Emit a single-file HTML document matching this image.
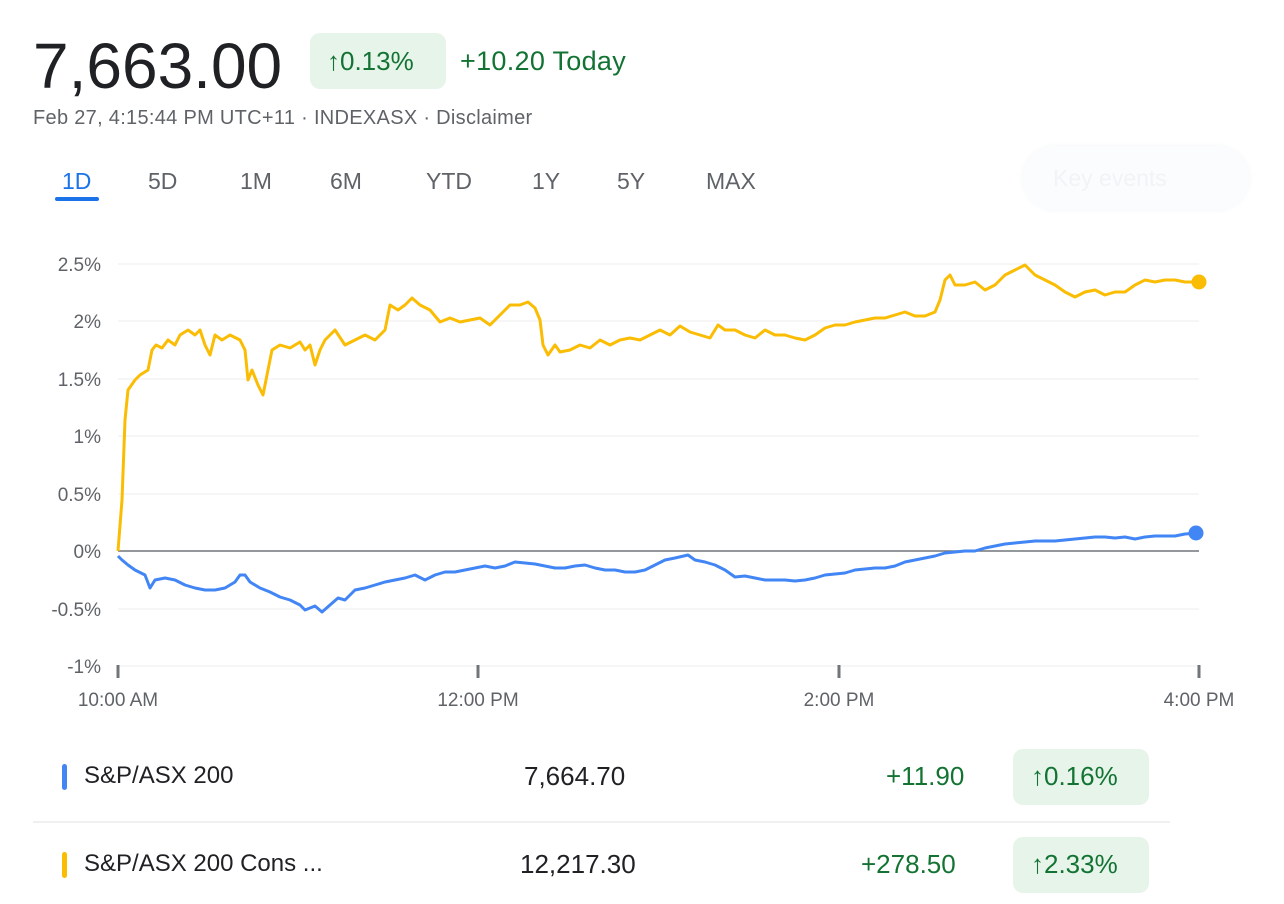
<!DOCTYPE html>
<html><head><meta charset="utf-8"><style>
body{margin:0;width:1284px;height:904px;background:#fff;font-family:"Liberation Sans",sans-serif;position:relative;overflow:hidden}
.a{position:absolute;white-space:nowrap}
</style></head><body>
<div class="a" style="left:33px;top:29px;font-size:64px;color:#202124;letter-spacing:0px">7,663.00</div>
<div class="a" style="left:310px;top:33px;width:136px;height:56px;background:#e6f4ea;border-radius:10px"></div>
<div class="a" style="left:327px;top:46px;font-size:26px;color:#137333">↑0.13%</div>
<div class="a" style="left:460px;top:46px;font-size:27px;color:#137333;letter-spacing:0.3px">+10.20 Today</div>
<div class="a" style="left:33px;top:107px;font-size:20px;color:#5f6368;letter-spacing:0.3px">Feb 27, 4:15:44 PM UTC+11 · INDEXASX · Disclaimer</div>
<div class="a" style="left:62px;top:168px;font-size:23px;color:#1a73e8">1D</div>
<div class="a" style="left:55px;top:197px;width:44px;height:4px;background:#1a73e8;border-radius:2px"></div>
<div class="a" style="left:148px;top:168px;font-size:23px;color:#5f6368">5D</div>
<div class="a" style="left:240px;top:168px;font-size:23px;color:#5f6368">1M</div>
<div class="a" style="left:330px;top:168px;font-size:23px;color:#5f6368">6M</div>
<div class="a" style="left:426px;top:168px;font-size:23px;color:#5f6368">YTD</div>
<div class="a" style="left:532px;top:168px;font-size:23px;color:#5f6368">1Y</div>
<div class="a" style="left:617px;top:168px;font-size:23px;color:#5f6368">5Y</div>
<div class="a" style="left:706px;top:168px;font-size:23px;color:#5f6368">MAX</div>
<div class="a" style="left:1023px;top:146px;width:226px;height:64px;border-radius:32px;background:#fbfcfd;box-shadow:0 0 6px #f3f5f8"></div>
<div class="a" style="left:1053px;top:165px;font-size:23px;color:#f1f3f6">Key events</div>
<svg class="a" style="left:0;top:0" width="1284" height="904">
<g stroke="#eeeeee" stroke-width="1">
<line x1="118" x2="1199" y1="264" y2="264"/><line x1="118" x2="1199" y1="321" y2="321"/><line x1="118" x2="1199" y1="379" y2="379"/><line x1="118" x2="1199" y1="436" y2="436"/><line x1="118" x2="1199" y1="494" y2="494"/><line x1="118" x2="1199" y1="609" y2="609"/><line x1="118" x2="1199" y1="666" y2="666"/>
</g>
<line x1="118" x2="1199" y1="551" y2="551" stroke="#70757a" stroke-width="1.5"/>
<g stroke="#70757a" stroke-width="3"><line x1="118" x2="118" y1="665" y2="678"/><line x1="478" x2="478" y1="665" y2="678"/><line x1="839" x2="839" y1="665" y2="678"/><line x1="1199" x2="1199" y1="665" y2="678"/></g>
<g font-size="19" fill="#5f6368" text-anchor="end">
<text x="101" y="271">2.5%</text><text x="101" y="328">2%</text><text x="101" y="386">1.5%</text><text x="101" y="443">1%</text><text x="101" y="501">0.5%</text><text x="101" y="558">0%</text><text x="101" y="616">-0.5%</text><text x="101" y="673">-1%</text>
</g>
<g font-size="19" fill="#5f6368" text-anchor="middle">
<text x="118" y="706">10:00 AM</text><text x="478" y="706">12:00 PM</text><text x="839" y="706">2:00 PM</text><text x="1199" y="706">4:00 PM</text>
</g>
<polyline fill="none" stroke="#fbbc04" stroke-width="3" stroke-linejoin="round" points="118,551 122,500 125,420 128,390 135,380 140,375 148,370 152,350 156,345 162,348 168,340 175,345 180,335 188,330 195,335 200,330 205,345 210,355 215,335 222,340 230,335 240,340 245,350 248,380 252,370 258,385 263,395 268,370 272,350 280,345 290,348 300,342 305,350 310,345 315,365 320,350 325,340 335,330 345,345 355,340 365,335 375,340 385,330 390,305 398,310 405,305 412,298 420,305 430,310 440,322 450,318 460,322 470,320 480,318 490,325 500,315 510,305 520,305 528,302 535,308 540,320 543,345 548,355 555,345 560,352 570,350 580,345 590,348 600,340 610,345 620,340 630,338 640,340 650,335 660,330 670,335 680,326 690,332 700,335 710,338 718,325 725,330 735,330 745,335 755,338 765,330 775,335 785,335 795,338 805,340 815,335 825,328 835,325 845,325 855,322 865,320 875,318 885,318 895,315 905,312 915,316 925,316 935,312 940,300 945,280 950,275 955,285 965,285 975,282 985,290 995,285 1005,275 1015,270 1025,265 1035,275 1045,280 1055,285 1065,292 1075,297 1085,292 1095,290 1105,295 1115,292 1125,292 1135,285 1145,280 1155,282 1165,280 1175,280 1185,282 1199,282"/>
<polyline fill="none" stroke="#4285f4" stroke-width="3" stroke-linejoin="round" points="118,556 122,560 128,565 135,570 145,575 150,588 155,580 165,578 175,580 185,585 195,588 205,590 215,590 225,588 235,582 240,575 245,575 250,582 260,588 270,592 280,597 290,600 300,605 305,610 315,606 322,612 330,605 338,598 345,600 355,590 365,588 375,585 385,582 395,580 405,578 415,575 425,580 435,575 445,572 455,572 465,570 475,568 485,566 495,568 505,566 515,562 525,563 535,564 545,566 555,568 565,568 575,566 585,565 595,568 605,570 615,570 625,572 635,572 645,570 655,565 665,560 675,558 688,555 695,560 705,562 715,565 725,570 735,577 745,576 755,578 765,580 775,580 785,580 795,581 805,580 815,578 825,575 835,574 845,573 855,570 865,569 875,568 885,568 895,566 905,562 915,560 925,558 935,556 945,553 955,552 965,551 975,551 985,548 995,546 1005,544 1015,543 1025,542 1035,541 1045,541 1055,541 1065,540 1075,539 1085,538 1095,537 1105,537 1115,538 1125,537 1135,539 1145,537 1155,536 1165,536 1175,536 1185,534 1199,533"/>
<circle cx="1199" cy="282" r="7.5" fill="#fbbc04"/>
<circle cx="1196" cy="533" r="7.5" fill="#4285f4"/>
<line x1="33" x2="1170" y1="822" y2="822" stroke="#e0e0e0" stroke-width="1"/>
</svg>
<div class="a" style="left:62px;top:764px;width:5px;height:26px;background:#4285f4;border-radius:3px"></div>
<div class="a" style="left:84px;top:762px;font-size:24px;color:#202124">S&amp;P/ASX 200</div>
<div class="a" style="left:524px;top:761px;font-size:26px;color:#202124">7,664.70</div>
<div class="a" style="left:886px;top:761px;font-size:26px;color:#137333">+11.90</div>
<div class="a" style="left:1013px;top:749px;width:136px;height:56px;background:#e6f4ea;border-radius:10px"></div>
<div class="a" style="left:1031px;top:761px;font-size:26px;color:#137333">↑0.16%</div>
<div class="a" style="left:62px;top:852px;width:5px;height:26px;background:#fbbc04;border-radius:3px"></div>
<div class="a" style="left:84px;top:850px;font-size:24px;color:#202124">S&amp;P/ASX 200 Cons ...</div>
<div class="a" style="left:520px;top:849px;font-size:26px;color:#202124">12,217.30</div>
<div class="a" style="left:861px;top:849px;font-size:26px;color:#137333">+278.50</div>
<div class="a" style="left:1013px;top:837px;width:136px;height:56px;background:#e6f4ea;border-radius:10px"></div>
<div class="a" style="left:1031px;top:849px;font-size:26px;color:#137333">↑2.33%</div>
</body></html>
